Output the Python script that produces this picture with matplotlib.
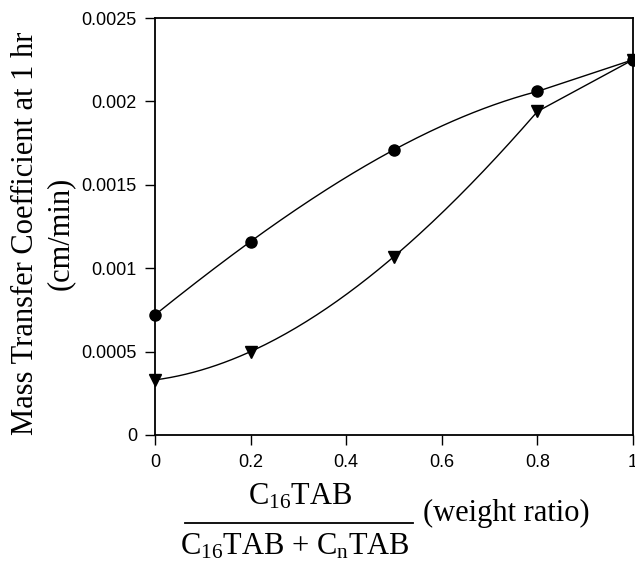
#!/usr/bin/env python
# coding: utf-8

import numpy as np
import matplotlib
matplotlib.use("Agg")
import matplotlib.pyplot as plt
from matplotlib.lines import Line2D

# ------------------------------------------------------------------
# Data
# ------------------------------------------------------------------
ratio = [0.0, 0.2, 0.5, 0.8, 1.0]
k_circle = [0.00072, 0.00116, 0.00171, 0.00206, 0.00225]
k_triangle = [0.00033, 0.00050, 0.00107, 0.00194, 0.00225]

xticks = [0, 0.2, 0.4, 0.6, 0.8, 1]
xticklabels = ["0", "0.2", "0.4", "0.6", "0.8", "1"]
yticks = [0, 0.0005, 0.001, 0.0015, 0.002, 0.0025]
yticklabels = ["0", "0.0005", "0.001", "0.0015", "0.002", "0.0025"]


def smooth_line(x, y, n=150):
    """Curve through the points: a cubic through the first four points,
    then a straight segment to the last point (as drawn in the original)."""
    x = np.asarray(x, float)
    y = np.asarray(y, float)
    coef = np.polyfit(x[:4], y[:4], 3)
    xs = np.linspace(x[0], x[3], n)
    ys = np.polyval(coef, xs)
    xs = np.append(xs, x[4])
    ys = np.append(ys, y[4])
    return xs, ys


plt.rcParams["font.family"] = ["Liberation Sans", "DejaVu Sans"]
plt.rcParams["mathtext.fontset"] = "custom"
plt.rcParams["mathtext.rm"] = "Liberation Serif"
plt.rcParams["mathtext.it"] = "Liberation Serif:italic"
plt.rcParams["mathtext.bf"] = "Liberation Serif:bold"

fig = plt.figure(figsize=(6.35, 5.63), dpi=100)
ax = fig.add_axes([0.244, 0.2274, 0.753, 0.7406])

for yv, mk, ms in [(k_circle, "o", 8), (k_triangle, "v", 8.5)]:
    xs, ys = smooth_line(ratio, yv)
    ax.plot(xs, ys, color="black", linewidth=1.0, clip_on=False)
    ax.plot(ratio, yv, linestyle="none", marker=mk, markersize=ms,
            color="black", clip_on=False, zorder=5)

ax.set_xlim(0, 1)
ax.set_ylim(0, 0.0025)
ax.set_xticks(xticks)
ax.set_xticklabels(xticklabels)
ax.set_yticks(yticks)
ax.set_yticklabels(yticklabels)
ax.tick_params(axis="both", direction="out", length=7, width=1.0,
               labelsize=13, colors="black")
ax.tick_params(axis="x", pad=7)
ax.tick_params(axis="y", pad=6)
for sp in ax.spines.values():
    sp.set_linewidth(1.3)

# y-axis label (two lines, serif)
serif = ["Liberation Serif", "DejaVu Serif"]
fig.text(26 / 635, 1 - 233 / 563, "Mass Transfer Coefficient at 1 hr",
         rotation=90, ha="center", va="center", fontsize=22, family=serif)
fig.text(60 / 635, 1 - 233 / 563, "(cm/min)",
         rotation=90, ha="center", va="center", fontsize=22, family=serif)

# x-axis label: fraction plus "(weight ratio)"
fig.text(300 / 635, 1 - 497 / 563, r"C$_{16}$TAB", ha="center", va="center",
         fontsize=22, family=serif)
fig.text(295 / 635, 1 - 547 / 563, r"C$_{16}$TAB + C$_{\rm n}$TAB",
         ha="center", va="center", fontsize=22, family=serif)
fig.add_artist(Line2D([185 / 635, 413 / 635], [1 - 523 / 563, 1 - 523 / 563],
                      color="black", linewidth=1.3, transform=fig.transFigure))
fig.text(423 / 635, 1 - 513 / 563, "(weight ratio)", ha="left", va="center",
         fontsize=22, family=serif)

fig.savefig("out.png", dpi=100)
